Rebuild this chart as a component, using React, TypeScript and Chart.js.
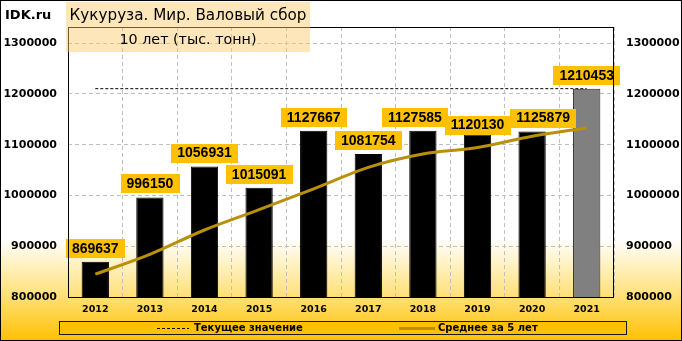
import React, { useEffect, useRef } from "react";
import { Chart, registerables } from "chart.js";

Chart.register(...registerables);

const years = ["2012", "2013", "2014", "2015", "2016", "2017", "2018", "2019", "2020", "2021"];
const harvest = [869637, 996150, 1056931, 1015091, 1127667, 1081754, 1127585, 1120130, 1125879, 1210453];
const avg5 = [845000, 884000, 932000, 972000, 1013100, 1055500, 1081800, 1094400, 1116600, 1133200];
const currentValue = [1210453, 1210453, 1210453, 1210453, 1210453, 1210453, 1210453, 1210453, 1210453, 1210453];
const yTicks = [800000, 900000, 1000000, 1100000, 1200000, 1300000];
const yMin = 800000;
const yMax = 1332000;

const titleLine1 = "Кукуруза. Мир. Валовый сбор";
const titleLine2 = "10 лет (тыс. тонн)";
const brand = "IDK.ru";

const SANS = "'DejaVu Sans', sans-serif";
const LAB = "'Liberation Sans', Arial, sans-serif";

const W = 682;
const H = 341;

const labelShift: Record<number, [number, number]> = { 6: [-8, 0], 7: [0, 4], 8: [11, 0] };

const decorPlugin = {
  id: "decor",
  beforeDraw(chart: any) {
    const ctx = chart.ctx;
    ctx.save();
    const g = ctx.createLinearGradient(0, 0, 0, H);
    g.addColorStop(0, "#FFFFFF");
    g.addColorStop(0.7, "#FFFFFF");
    g.addColorStop(0.86, "#FFE27E");
    g.addColorStop(1, "#FFC000");
    ctx.fillStyle = g;
    ctx.fillRect(0, 0, W, H);
    ctx.restore();
  },
  afterDatasetsDraw(chart: any) {
    const ctx = chart.ctx;
    const meta = chart.getDatasetMeta(1);
    ctx.save();
    ctx.font = "bold 14px " + LAB;
    ctx.textAlign = "center";
    ctx.textBaseline = "middle";
    meta.data.forEach((bar: any, i: number) => {
      const txt = String(harvest[i]);
      const tw = ctx.measureText(txt).width;
      const bw = tw + 12;
      const bh = 19;
      const sh = labelShift[i] || [0, 0];
      const cx = bar.x + sh[0];
      const bottom = bar.y - 4 + sh[1];
      ctx.fillStyle = "#FFC000";
      ctx.fillRect(Math.round(cx - bw / 2), Math.round(bottom - bh), Math.round(bw), bh);
      ctx.fillStyle = "#000000";
      ctx.fillText(txt, cx, bottom - bh / 2 + 0.5);
    });
    ctx.restore();
  },
  afterDraw(chart: any) {
    const ctx = chart.ctx;
    const a = chart.chartArea;
    ctx.save();
    // plot frame
    ctx.strokeStyle = "#000000";
    ctx.lineWidth = 1;
    ctx.strokeRect(Math.round(a.left) + 0.5, Math.round(a.top) + 0.5, Math.round(a.right - a.left) - 1, Math.round(a.bottom - a.top));
    // title box
    ctx.fillStyle = "rgba(250, 200, 100, 0.45)";
    ctx.fillRect(66, 2, 244, 50);
    ctx.fillStyle = "#000000";
    ctx.textAlign = "center";
    ctx.textBaseline = "middle";
    ctx.font = "15.2px " + SANS;
    ctx.fillText(titleLine1, 188, 16);
    ctx.font = "14.3px " + SANS;
    ctx.fillText(titleLine2, 188, 40);
    // brand
    ctx.font = "bold 13px " + SANS;
    ctx.textAlign = "left";
    ctx.fillText(brand, 5, 16);
    // legend
    ctx.fillStyle = "#FFC000";
    ctx.fillRect(59, 321, 568, 14);
    ctx.strokeStyle = "#1a1a1a";
    ctx.strokeRect(59.5, 321.5, 567, 13);
    const ds = chart.data.datasets;
    ctx.font = "bold 10px " + SANS;
    ctx.fillStyle = "#000000";
    ctx.textBaseline = "middle";
    ctx.strokeStyle = "#000000";
    ctx.lineWidth = 1;
    ctx.setLineDash([3, 2]);
    ctx.beginPath();
    ctx.moveTo(157, 328.5);
    ctx.lineTo(189, 328.5);
    ctx.stroke();
    ctx.setLineDash([]);
    ctx.fillText(ds[2].label, 194, 328.5);
    ctx.strokeStyle = ds[0].borderColor;
    ctx.lineWidth = 3;
    ctx.beginPath();
    ctx.moveTo(399, 328.5);
    ctx.lineTo(435, 328.5);
    ctx.stroke();
    ctx.fillText(ds[0].label, 438, 328.5);
    // outer border
    ctx.strokeStyle = "#000000";
    ctx.lineWidth = 1;
    ctx.strokeRect(0.5, 0.5, W - 1, H - 1);
    ctx.restore();
  },
};

const setTicks = (scale: any) => {
  scale.ticks = yTicks.map((v) => ({ value: v }));
};

export default function App() {
  const ref = useRef<HTMLCanvasElement | null>(null);
  useEffect(() => {
    document.body.style.margin = "0";
    if (!ref.current) return;
    const barColors = harvest.map((_, i) => (i === harvest.length - 1 ? "#808080" : "#000000"));
    const barBorders = harvest.map((_, i) => (i === harvest.length - 1 ? "#262626" : "#000000"));
    const chart = new Chart(ref.current, {
      type: "bar",
      data: {
        labels: years,
        datasets: [
          {
            type: "line",
            label: "Среднее за 5 лет",
            data: avg5,
            borderColor: "#B8900A",
            borderWidth: 3,
            pointRadius: 0,
            tension: 0.4,
            cubicInterpolationMode: "monotone",
            fill: false,
            order: 0,
            yAxisID: "y",
          } as any,
          {
            type: "bar",
            label: "Валовый сбор",
            data: harvest,
            backgroundColor: barColors,
            borderColor: barBorders,
            borderWidth: 1,
            barPercentage: 0.5,
            categoryPercentage: 1,
            order: 1,
            yAxisID: "y",
          } as any,
          {
            type: "line",
            label: "Текущее значение",
            data: currentValue,
            borderColor: "#000000",
            borderWidth: 1,
            borderDash: [3, 2],
            pointRadius: 0,
            fill: false,
            order: 2,
            yAxisID: "y",
          } as any,
        ],
      },
      options: {
        responsive: false,
        animation: false,
        devicePixelRatio: 1,
        layout: { padding: { top: 27, left: 0, right: 0, bottom: 0 } },
        plugins: {
          legend: { display: false },
          tooltip: { enabled: false },
          title: { display: false },
        },
        scales: {
          x: {
            type: "category",
            offset: true,
            grid: {
              display: true,
              offset: true,
              drawTicks: false,
              color: "#BFBFBF",
            } as any,
            border: { display: false, dash: [4, 3] } as any,
            ticks: {
              color: "#000000",
              font: { family: SANS, size: 9.5, weight: "bold" },
              padding: 7,
              maxRotation: 0,
            },
            afterFit(scale: any) {
              scale.height = 44;
            },
          },
          y: {
            type: "linear",
            position: "left",
            min: yMin,
            max: yMax,
            afterBuildTicks: setTicks,
            grid: { display: true, drawTicks: false, color: "#BFBFBF" },
            border: { display: false, dash: [4, 3] } as any,
            ticks: {
              color: "#000000",
              font: { family: SANS, size: 11, weight: "bold" },
              padding: 11,
              callback: (v: any) => String(v),
            } as any,
            afterFit(scale: any) {
              scale.width = 68;
            },
          },
          y2: {
            type: "linear",
            position: "right",
            min: yMin,
            max: yMax,
            afterBuildTicks: setTicks,
            grid: { display: false, drawTicks: false, tickLength: 0 },
            border: { display: false },
            ticks: {
              color: "#000000",
              font: { family: SANS, size: 11, weight: "bold" },
              padding: 12,
              callback: (v: any) => String(v),
            } as any,
            afterFit(scale: any) {
              scale.width = 68;
            },
          },
        },
      },
      plugins: [decorPlugin],
    });
    return () => chart.destroy();
  }, []);
  return (
    <div style={{ width: W, height: H }}>
      <canvas ref={ref} width={W} height={H} style={{ display: "block", width: W, height: H }} />
    </div>
  );
}
